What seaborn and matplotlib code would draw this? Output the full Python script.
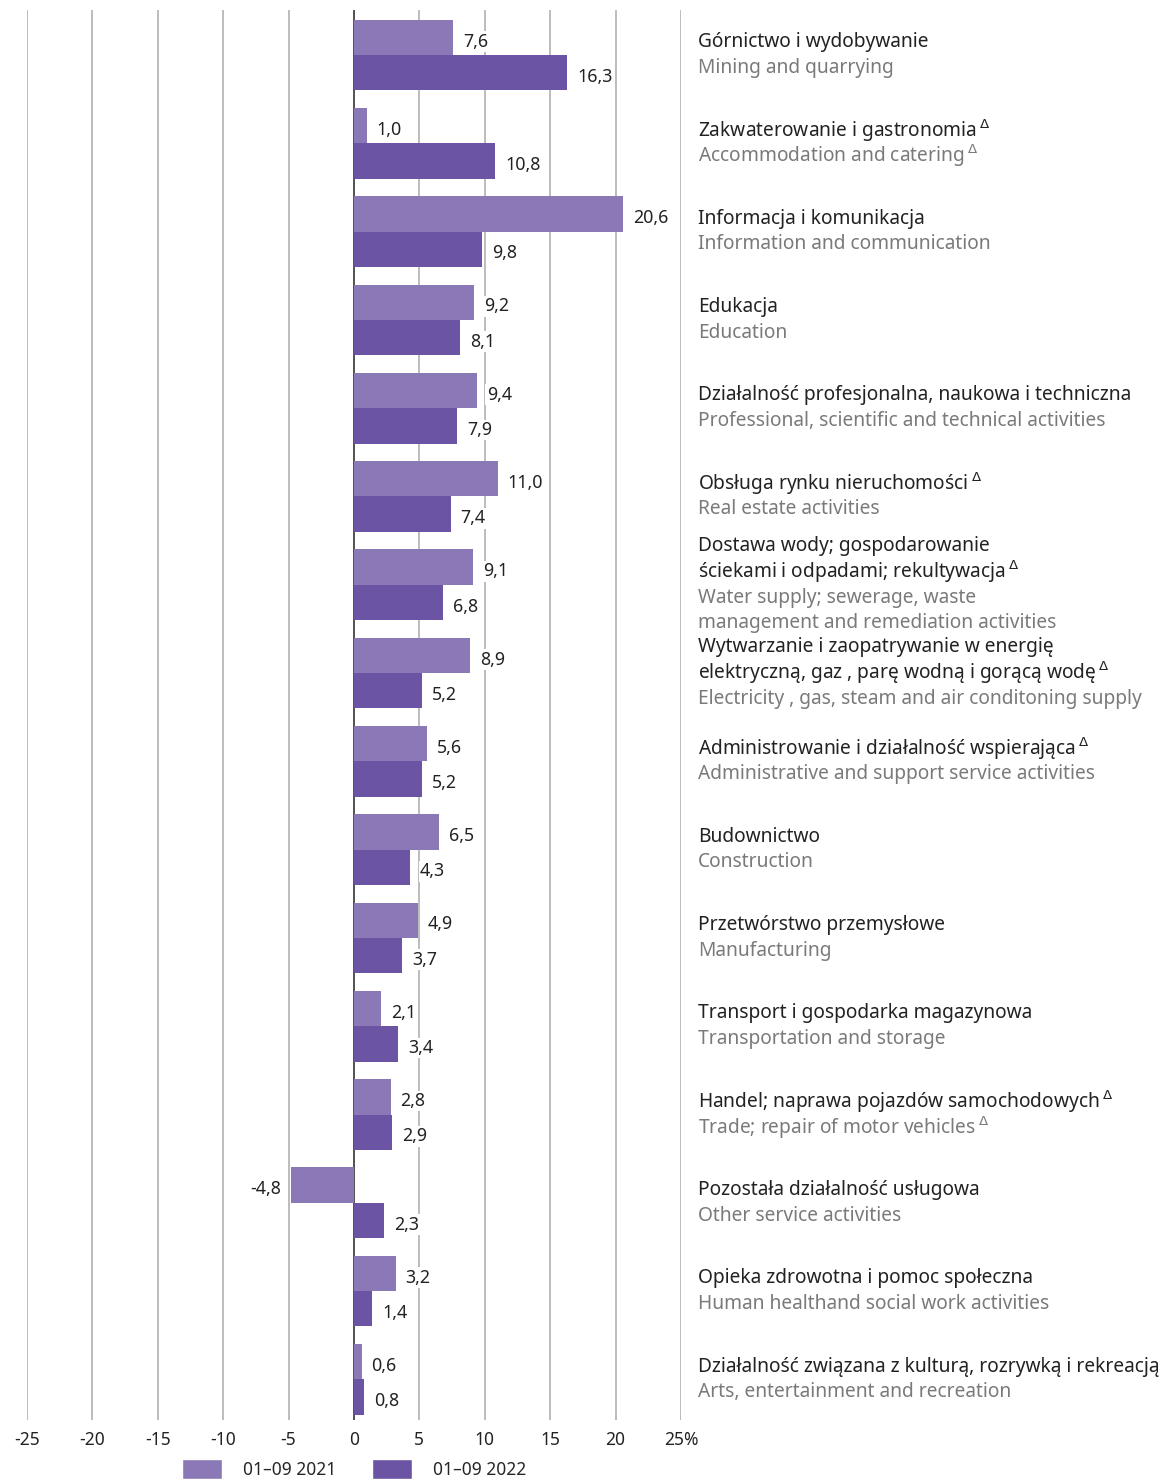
import numpy as np
import pandas as pd
import matplotlib
matplotlib.use("Agg")
import matplotlib.pyplot as plt
from matplotlib.patches import Patch
import seaborn as sns

D = "\u2009$^{\\Delta}$"

# categories (Polish / English), values
labels_pl = [
    "Górnictwo i wydobywanie",
    "Zakwaterowanie i gastronomia" + D,
    "Informacja i komunikacja",
    "Edukacja",
    "Działalność profesjonalna, naukowa i techniczna",
    "Obsługa rynku nieruchomości" + D,
    "Dostawa wody; gospodarowanie\nściekami i odpadami; rekultywacja" + D,
    "Wytwarzanie i zaopatrywanie w energię\nelektryczną, gaz , parę wodną i gorącą wodę" + D,
    "Administrowanie i działalność wspierająca" + D,
    "Budownictwo",
    "Przetwórstwo przemysłowe",
    "Transport i gospodarka magazynowa",
    "Handel; naprawa pojazdów samochodowych" + D,
    "Pozostała działalność usługowa",
    "Opieka zdrowotna i pomoc społeczna",
    "Działalność związana z kulturą, rozrywką i rekreacją",
]
labels_en = [
    "Mining and quarrying",
    "Accommodation and catering" + D,
    "Information and communication",
    "Education",
    "Professional, scientific and technical activities",
    "Real estate activities",
    "Water supply; sewerage, waste\nmanagement and remediation activities",
    "Electricity , gas, steam and air conditoning supply",
    "Administrative and support service activities",
    "Construction",
    "Manufacturing",
    "Transportation and storage",
    "Trade; repair of motor vehicles" + D,
    "Other service activities",
    "Human healthand social work activities",
    "Arts, entertainment and recreation",
]
v2021 = [7.6, 1.0, 20.6, 9.2, 9.4, 11.0, 9.1, 8.9, 5.6, 6.5, 4.9, 2.1, 2.8, -4.8, 3.2, 0.6]
v2022 = [16.3, 10.8, 9.8, 8.1, 7.9, 7.4, 6.8, 5.2, 5.2, 4.3, 3.7, 3.4, 2.9, 2.3, 1.4, 0.8]
series = ["01–09 2021", "01–09 2022"]
ticks = [-25, -20, -15, -10, -5, 0, 5, 10, 15, 20, 25]

light = "#8b78b6"
dark = "#6a54a3"

cats = [f"c{i}" for i in range(len(v2021))]
df = pd.DataFrame({
    "cat": cats * 2,
    "value": v2021 + v2022,
    "period": [series[0]] * len(cats) + [series[1]] * len(cats),
})

sns.set_theme(style="white")
plt.rcParams["font.family"] = ["Noto Sans", "DejaVu Sans"]

fig = plt.figure(figsize=(11.75, 14.81), dpi=100)
ax = fig.add_axes([27 / 1175, 1 - 1420 / 1481, (681 - 27) / 1175, (1420 - 10) / 1481])

sns.barplot(data=df, x="value", y="cat", hue="period", orient="h",
            palette=[light, dark], width=0.8, saturation=1, ax=ax, legend=False,
            linewidth=0, edgecolor="none")

ax.set_xlim(-25, 25)
ax.set_ylim(15.46, -0.51)
ax.set_xticks(ticks)
ax.set_xticklabels([str(t) for t in ticks[:-1]] + ["25%"], fontsize=12.5, color="#222222")
ax.set_yticks([])
ax.set_xlabel("")
ax.set_ylabel("")
ax.tick_params(axis="x", length=0, pad=8)
for s in ax.spines.values():
    s.set_visible(False)
for t in ticks:
    ax.axvline(t, color="#222222" if t == 0 else "#aaaaaa", lw=1.1, zorder=0)

for cont, vals in zip(ax.containers, [v2021, v2022]):
    anns = ax.bar_label(cont, labels=[f"{v:.1f}".replace(".", ",") for v in vals],
                        padding=7, fontsize=12.8, color="#222222",
                        bbox=dict(facecolor="white", edgecolor="none", pad=1))
    for a in anns:
        dx, dy = a.xyann
        a.xyann = (dx, dy - 3)

# category labels to the right of the plot
x_lab = 26.3
step = 0.29
for i, (pl, en) in enumerate(zip(labels_pl, labels_en)):
    lines = [(l, "#222222") for l in pl.split("\n")] + [(l, "#7a7a7a") for l in en.split("\n")]
    n = len(lines)
    for j, (txt, col) in enumerate(lines):
        y = i + (j - (n - 1) / 2) * step
        ax.text(x_lab, y, txt, color=col, fontsize=13.8, va="center", ha="left", clip_on=False)

handles = [Patch(facecolor=light, label=series[0]), Patch(facecolor=dark, label=series[1])]
fig.legend(handles=handles, loc="center", bbox_to_anchor=(354 / 1175, 1 - 1469 / 1481),
           ncol=2, frameon=False, fontsize=12.5, handlelength=2.3, handleheight=1.4,
           columnspacing=2.1, handletextpad=1.2)

fig.savefig("out.png", dpi=100)
